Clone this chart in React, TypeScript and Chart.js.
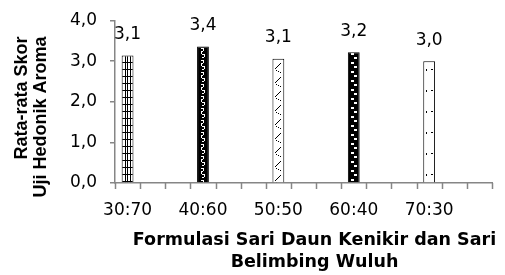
import React, { useEffect, useRef } from "react";
import { Chart, registerables } from "chart.js";

Chart.register(...registerables);

const categories = ["30:70", "40:60", "50:50", "60:40", "70:30"];
const values = [3.14, 3.36, 3.06, 3.22, 3.0];
const yTicks = [0, 1, 2, 3, 4];
const xTitleLines = ["Formulasi Sari Daun Kenikir dan Sari", "Belimbing Wuluh"];
const yTitleLines = ["Rata-rata Skor", "Uji Hedonik Aroma"];
const slotsPerCategory = 3;

const fmt = (v: number) => v.toFixed(1).replace(".", ",");

function makeTile(w: number, h: number, bg: string, fg: string, rects: number[][]) {
  const c = document.createElement("canvas");
  c.width = w;
  c.height = h;
  const g = c.getContext("2d")!;
  g.fillStyle = bg;
  g.fillRect(0, 0, w, h);
  g.fillStyle = fg;
  rects.forEach(([x, y, rw, rh]) => g.fillRect(x, y, rw, rh));
  return g.createPattern(c, "repeat")!;
}

function makePatterns() {
  return [
    makeTile(12, 7, "#fff", "#000", [
      [0, 0, 12, 1],
      [3, 0, 1, 7],
      [5, 0, 1, 7],
      [8, 0, 1, 7],
    ]),
    makeTile(12, 12, "#000", "#fff", [
      [4, 1, 3, 1],
      [6, 2, 1, 2],
      [4, 4, 2, 1],
      [4, 5, 1, 2],
      [5, 7, 3, 1],
      [7, 8, 1, 2],
      [5, 10, 2, 1],
    ]),
    makeTile(12, 14, "#fff", "#000", [
      [3, 9, 1, 1],
      [4, 8, 1, 1],
      [5, 7, 1, 1],
      [6, 6, 1, 1],
      [7, 5, 1, 1],
      [8, 4, 1, 1],
      [4, 11, 1, 1],
      [6, 12, 1, 1],
      [8, 13, 1, 1],
    ]),
    makeTile(12, 9, "#000", "#fff", [
      [3, 1, 3, 2],
      [6, 5, 3, 2],
    ]),
    makeTile(12, 21, "#fff", "#000", [
      [3, 8, 1, 2],
      [8, 8, 2, 1],
    ]),
  ];
}

export default function App() {
  const ref = useRef<HTMLCanvasElement | null>(null);

  useEffect(() => {
    document.body.style.margin = "0";
    const canvas = ref.current!;
    const patterns = makePatterns();

    const labels: string[] = [];
    const data: (number | null)[] = [];
    const bg: (CanvasPattern | string)[] = [];
    categories.forEach((c, i) => {
      for (let s = 0; s < slotsPerCategory; s++) {
        labels.push(s === 0 ? c : "");
        data.push(s === 0 ? values[i] : null);
        bg.push(s === 0 ? patterns[i] : "#fff");
      }
    });

    const axisColor = "#868686";
    const tickFont = "17px 'DejaVu Sans'";

    const overlay = {
      id: "overlay",
      beforeDatasetsDraw(chart: any) {
        const meta = chart.getDatasetMeta(0);
        meta.data.forEach((el: any, i: number) => {
          const p = bg[i];
          if (data[i] == null || typeof p === "string") return;
          const left = Math.round(el.x - el.width / 2);
          const top = Math.round(el.y);
          (p as CanvasPattern).setTransform(new DOMMatrix().translate(left, top));
        });
      },
      afterDraw(chart: any) {
        const ctx: CanvasRenderingContext2D = chart.ctx;
        const meta = chart.getDatasetMeta(0);
        const area = chart.chartArea;
        const xs = chart.scales.x;
        const ys = chart.scales.y;
        ctx.save();

        ctx.strokeStyle = axisColor;
        ctx.lineWidth = 1.5;
        ctx.beginPath();
        for (let i = 0; i <= labels.length; i++) {
          const px = Math.round(xs.getPixelForValue(i - 0.5)) + 0.5;
          ctx.moveTo(px, area.bottom);
          ctx.lineTo(px, area.bottom + 6);
        }
        ctx.stroke();

        ctx.fillStyle = "#000";
        ctx.textBaseline = "middle";
        ctx.font = tickFont;
        ctx.textAlign = "center";
        labels.forEach((l, i) => {
          if (!l) return;
          ctx.fillText(l, xs.getPixelForValue(i), area.bottom + 28);
        });
        ctx.textAlign = "right";
        yTicks.forEach((v) => {
          ctx.fillText(fmt(v), area.left - 18, ys.getPixelForValue(v));
        });
        ctx.textAlign = "center";
        meta.data.forEach((el: any, i: number) => {
          const v = data[i];
          if (v == null) return;
          ctx.fillText(fmt(v), el.x, el.y - 21);
        });
        ctx.font = "bold 17.5px 'DejaVu Sans'";
        const cx = (area.left + area.right) / 2 + 11;
        ctx.fillText(xTitleLines[0], cx, area.bottom + 57);
        ctx.fillText(xTitleLines[1], cx, area.bottom + 79);

        ctx.font = "bold 18px 'Liberation Sans'";
        ctx.rotate(-Math.PI / 2);
        ctx.textAlign = "right";
        const topEnd = area.top + 16;
        ctx.fillText(yTitleLines[0], -topEnd, 22);
        ctx.fillText(yTitleLines[1], -topEnd, 41);
        ctx.restore();
      },
    };

    const chart = new Chart(canvas, {
      type: "bar",
      data: {
        labels,
        datasets: [
          {
            data,
            backgroundColor: bg as any,
            borderColor: "#000",
            borderWidth: 1,
            barPercentage: 0.47,
            categoryPercentage: 1,
          },
        ],
      },
      options: {
        animation: false,
        responsive: true,
        maintainAspectRatio: false,
        layout: { padding: { top: 20.5, right: 13, left: 0, bottom: 0 } },
        plugins: {
          legend: { display: false },
          tooltip: { enabled: false },
        },
        scales: {
          x: {
            grid: { display: false },
            border: { display: true, color: axisColor, width: 1.5 },
            ticks: { display: false },
            afterFit: (s: any) => {
              s.height = 92;
            },
          },
          y: {
            min: 0,
            max: 4,
            afterBuildTicks: (s: any) => {
              s.ticks = yTicks.map((v) => ({ value: v }));
            },
            grid: {
              display: true,
              drawOnChartArea: false,
              drawTicks: true,
              tickLength: 5,
              color: axisColor,
              lineWidth: 1.5,
            },
            border: { display: true, color: axisColor, width: 1.5 },
            ticks: { display: false },
            afterFit: (s: any) => {
              s.width = 115;
            },
          },
        },
      },
      plugins: [overlay],
    });

    return () => chart.destroy();
  }, []);

  return (
    <div style={{ width: 505, height: 275, position: "relative" }}>
      <canvas ref={ref} />
    </div>
  );
}
